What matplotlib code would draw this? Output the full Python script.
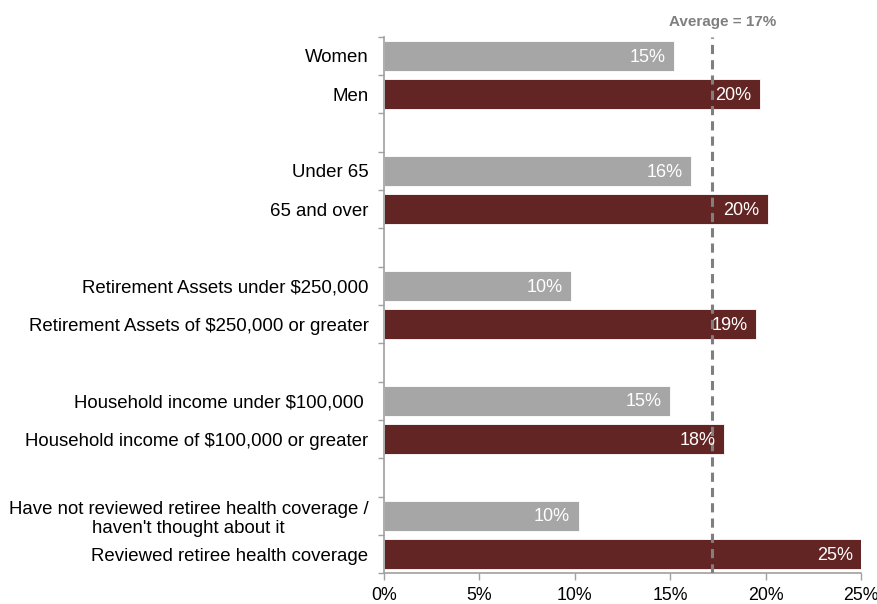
import numpy as np
from matplotlib import pyplot as plt

plt.rcParams["font.family"] = ["Liberation Sans", "DejaVu Sans"]

labels = ["Women", "Men",
          "Under 65", "65 and over",
          "Retirement Assets under $250,000", "Retirement Assets of $250,000 or greater",
          "Household income under $100,000 ", "Household income of $100,000 or greater",
          "Have not reviewed retiree health coverage /\nhaven't thought about it",
          "Reviewed retiree health coverage"]
values = [15.2, 19.7, 16.1, 20.1, 9.8, 19.5, 15.0, 17.8, 10.2, 25.0]
value_text = ["15%", "20%", "16%", "20%", "10%", "19%", "15%", "18%", "10%", "25%"]
average = 17.2
avg_label = "Average = 17%"
xticks = [0, 5, 10, 15, 20, 25]

gray = "#A6A6A6"
red = "#632523"
axis_col = "#A0A0A0"

fig = plt.figure(figsize=(8.78, 6.04), dpi=100)
ax = fig.add_axes([0.437, 0.051, 0.544, 0.888])

# each pair of bars followed by an empty slot
pos = np.array([i + i // 2 for i in range(len(values))])
colors = [gray if i % 2 == 0 else red for i in range(len(values))]

ax.barh(pos, values, height=0.78, color=colors, edgecolor="white", linewidth=0.6, zorder=2)

for p, v, t in zip(pos, values, value_text):
    ax.text(v - 0.45, p + 0.03, t, ha="right", va="center", color="white", fontsize=13, zorder=4)

ax.axvline(average, color="#7F7F7F", linestyle=(0, (3, 2)), linewidth=2.2, zorder=3)
ax.text(average + 0.55, -0.7, avg_label, ha="center", va="bottom", color="#7F7F7F",
        fontsize=11, fontweight="bold")

ax.set_xlim(0, 25)
ax.set_ylim(pos[-1] + 0.5, -0.5)
ax.set_xticks(xticks)
ax.set_xticklabels([f"{x}%" for x in xticks], fontsize=12.8)
ax.set_yticks(pos)
ax.set_yticklabels(labels, fontsize=13.4, multialignment="center")
ax.tick_params(axis="y", length=0, pad=11)
ax.set_yticks(np.arange(-0.5, pos[-1] + 1, 1.0), minor=True)
ax.tick_params(axis="y", which="minor", length=4, color=axis_col, width=1)
ax.tick_params(axis="x", length=5, color=axis_col, width=1, pad=5)

for s in ["top", "right"]:
    ax.spines[s].set_visible(False)
for s in ["left", "bottom"]:
    ax.spines[s].set_color(axis_col)
    ax.spines[s].set_linewidth(1.2)

fig.savefig("out.png", dpi=100)
